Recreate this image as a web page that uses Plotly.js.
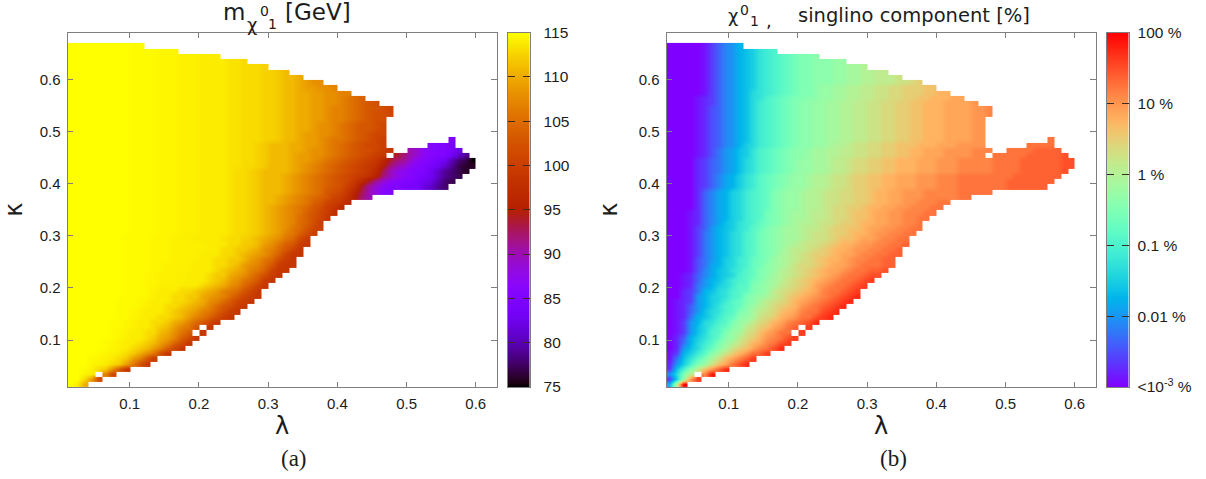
<!DOCTYPE html>
<html><head><meta charset="utf-8">
<script src="https://cdn.plot.ly/plotly-3.0.1.min.js"></script>
<style>html,body{margin:0;padding:0;background:#fff}</style></head>
<body><div id="chart" style="width:1206px;height:479px"></div>
<script>
// Cell centres of the scan grid
const lambdaCells=[.015,.025,.035,.045,.055,.065,.075,.085,.095,.105,.115,.125,.135,.145,.155,.165,.175,.185,.195,.205,.215,.225,.235,.245,.255,.265,.275,.285,.295,.305,.315,.325,.335,.345,.355,.365,.375,.385,.395,.405,.415,.425,.435,.445,.455,.465,.475,.485,.495,.505,.515,.525,.535,.545,.555,.565,.575,.585,.595];
const kappaCells=[.015,.025,.035,.045,.055,.065,.075,.085,.095,.105,.115,.125,.135,.145,.155,.165,.175,.185,.195,.205,.215,.225,.235,.245,.255,.265,.275,.285,.295,.305,.315,.325,.335,.345,.355,.365,.375,.385,.395,.405,.415,.425,.435,.445,.455,.465,.475,.485,.495,.505,.515,.525,.535,.545,.555,.565,.575,.585,.595,.605,.615,.625,.635,.645,.655,.665];
// One string per kappa row, one character per lambda cell, blank = excluded point.
const levelCode="0123456789abcdefghijklmnopqrstuvwxyzABCDE";
// neutralino mass: 75 GeV + level; extra characters mark fractional levels near the top of the range
const massFractional={F:114.75,G:114.5,H:114.25,I:113.5,J:112.5};
const massRows=[
"EDz",
"EECyr",
"EEGD wq",
"EEFHCBxso",
"EEEGHDCByvro",
"EEEFGHDCBywsp",
"EEEEFGHDCBzxvro",
"EEEEEFGHDCBAywtqo",
"EEEEEFGHDDCBAywtro",
"EEEEEEFGHDDCBzywtro",
"EEEEEEFGHDDCCAzxvt o",
"EEEEEEFFGHDDCBAywvs o",
"EEEEEEFFGHDDCCBzywusqo",
"EEEEEEEFFGHDDCCBAywvtrpo",
"EEEEEEEFFGHDDDCBAzywvtrpo",
"EEEEEEEFFFGHDDCCBAzywusrpo",
"EEEEEEEFFFGHDDDCCBAzxwusqpo",
"EEEEEEEEFFFGHDDCCBBzyxwusqpo",
"EEEEEEEEFFFGHDDDCCBAzywvusqo",
"EEEEEEEEFFFGGHHHDDDCBAzxwusqo",
"EEEEEEEEFFFGGHHHHDDDCBAyxvuspo",
"EEEEEEEEFFFGGHHHHDDDCBBzyxvtrpo",
"EEEEEEEEFFFFGGHHHHDDDCBAzywvtqoo",
"EEEEEEEEFFFFGGHHHHDDDCCBAyxwuspoo",
"EEEEEEEEFFFFGGGHHHHDDCCBBAyxvurpo",
"EEEEEEEEFFFFGGGHHHHDDDCCBAzyxvtqoo",
"EEEEEEEEFFFFGGGHHHHHDDCCBBAzxwusqo",
"EEEEEEEEFFFFGGGHHHHHDDDCCBBAyxvtspo",
"EEEEEEEEFFFFGGGHHHDDDDICCJBAzyxvurp",
"EEEEEEEEEFFFFGGGHHHDDDDICCJBAzywvtrp",
"EEEEEEEEEFFFFGGGHHHDDDDICCJBAzyxvusqp",
"EEEEEEEEEFFFFGGGHHHDDDDICCJBAzyxwutrp",
"EEEEEEEEEFFFFGGGHHHDDDDICCJBAzyxwutrqo",
"EEEEEEEEEFFFFGGGHHHDDDDICCJBAzyxwvtsqpn",
"EEEEEEEEEFFFFGGGHHHDDDDICCJBAzyxwvusrpom",
"EEEEEEEEEFFFFGGGHHHDDDDICCJBAAzyxwvtsqpom",
"EEEEEEEEEFFFFGGGHHHDDDDICCJBAAzyxwvutsqpnkhf",
"EEEEEEEEEFFFFGGGHHHDDDDICCJBAAAzyxwvusrqolifdba",
"EEEEEEEEEFFFFGGGHHHDDDDICCJBAAAzyxwvutsrpnjgecaaa997643",
"EEEEEEEEEFFFFGGGHHHDDDDICCJBAAAzyxwvutsrqomjgecbaa987532",
"EEEEEEEEEFFFFGGGHHHDDDDICCJBAAAzyxwvutsrqponlhfdcba986432",
"EEEEEEEEEFFFFGGGHHHDDDDICCJBAAAAzyxwvutsrqpomifdcbaa864321",
"EEEEEEEEEFFFFGGGHHHDDDDIICCJBAAAzyxwvutsrqponkhfecba9864211",
"EEEEEEEEEFFFFGGGHHHDDDDIICCJBAAAzyyxwvutsrqpomjhgecba985320",
"EEEEEEEEEFFFFGGGHHHDDDDIICCJBAAAzyyxxwvutsrqpo jhfecbaa864",
"EEEEEEEEEFFFFGGGHHHDDDDIICCJBAAAzzyxxwvutsrrqpo  fecbaa97",
"EEEEEEEEEFFFFGGGHHHDDDDIICCJBAAAzzyyxwvutsrqqp      baa9",
"EEEEEEEEEFFFFGGGHHHDDDDIICCCJJBAAzyyxwvvutsrqp         a",
"EEEEEEEEEFFFFGGGHHHDDDDIICCCJJBAAzyyxxwvutsrqq",
"EEEEEEEEEFFFFGGGHHHDDDDIICCCJJBAAzzyxxwvutssrq",
"EEEEEEEEEFFFFGGGHHHDDDDIICCCJJBAAzzyxxwvutssrq",
"EEEEEEEEEFFFFGGGHHHDDDDIICCCJJBAAzzyyxwwvutsrr",
"EEEEEEEEEFFFFGGGHHHDDDDIICCCJJBAAzzyyxwwvutsrrq",
"EEEEEEEEEFFFFGGGHHHDDDDIICCCJJBAAzzyyxwwvutssrq",
"EEEEEEEEEFFFFGGGHHHDDDDIICCCJJBAAzzyyxxwvutsr",
"EEEEEEEEEFFFFGGGHHHDDDDIICCCJJBAAzzyyxxwvut",
"EEEEEEEEEFFFFGGGHHHDDDDIICCCJJBAAzzyyxxww",
"EEEEEEEEEFFFFGGGHHHDDDDIICCCJJBAAzyyxxw",
"EEEEEEEEEFFFFGGGHHHDDDDIICCCJJBAAzyxx",
"EEEEEEEEEFFFFGGGHHHDDDDIICCCJJBAAz",
"EEEEEEEEEFFFFGGGHHHDDDDIICCCJJBA",
"EEEEEEEEEFFFFGGGHHHDDDDIICCCJ",
"EEEEEEEEEFFFFGGGHHHDDDDIIC",
"EEEEEEEEEFFFFGGGHHHDDD",
"EEEEEEEEEFFFFGGG",
"EEEEEEEEEFF"];
// singlino component: log10(%) = -3 + level/8
const singlinoRows=[
"aoE",
"3cmwB",
"8dkp xD",
"3bglptwzC",
"28cgkmqtvyAC",
"16behknqtvxzB",
"13acfhlnqsuwyzB",
"028bdgilnqstvxyAC",
"026adfhkmoqsuvxyAB",
"025acegilmprsuwxyAB",
"0138bdghkmnqrtvwyy B",
"0138bdfhilmpqstvwyz B",
"0138adeghkmnprsuvxyzAC",
"0126abdfhilmnqrsuvwyyABC",
"01258bdeghklnpqrtuvxyyABC",
"01258aceghilmoprstuwxyzABC",
"01238acdfhiklnpqrsuvwxyzABC",
"00238acdeghklmnpqstuvwxyzABC",
"00236abdeghiklmpqrstuvxyyzAB",
"001268acdfhhklmnpqrstvwxyyzAB",
"001258abdfghjkmnoqrstuvwxyyzAB",
"0012579bcdghiklnopqrstuvwxyyzAA",
"0001479bcefhiklmopqrstuvvwxyyzzA",
"0001469acdfgijlmnoqrrstuvvwxyyyzz",
"0001468acdfgijkmnopqrstuuvwxxyyzz",
"0001368abdeghjklnopqrsstuvvwxxyyzz",
"0001368abdeghjklmoppqrstuuvwwxxyyz",
"0001368abdeghjklmnopqqrstuuvwwxxyyz",
"0001368abdeghjklmnnopqqrsttuvvwxxyy",
"0001368abdeghjklmnnopqqrsstuuvwwxxyy",
"0001358abcefhiklmnnoppqrssttuvvwwxxyy",
"00012579bcefgijklmnoopqqrsstuuvvwwxxy",
"00012579acdfghjklmnnoppqrrsttuvvwwxxyy",
"00012579acdfghjklmnnoppqrrsttuvvwwxxxyy",
"00002579acdfghiklmmnoopqrrsstuuvvwwxxxyy",
"00002579acdfghiklmmnoopqqrrsstuuvvwwxxxyy",
"00002579acdfghiklmmnoopqqrrsstuuvvwwwxxxxxyy",
"00002579acdfghiklmmnoopqqrrsstuuvvwwwxxxxxyyyyy",
"000023579acefhijklmmnoopqqrssttuuvvvwwwxxxyyyyyyyzzzzzz",
"000023579acefhijklmmnoopqqrssttuuvvvwwwxxxyyyyyyyzzzzzzz",
"000023579acefhijklmmnoopqqrssttuuvvvwwwxxxyyyyyyyyzzzzzzz",
"0000235689bdeghijklmmnnoppqrrssttuuuvvvwwwxxxxxyyyyzzzzzzA",
"0000235689bdeghijklmmnnoppqrrssttuuuvvvwwwxxxxxyyyyzzzzzzAA",
"0000235689bdeghijklmmnnoppqrrssttuuuvvvwwwxxxxxyyyyzzzzzzAA",
"0000124689bceghijkllmnnooppqqrrssttuuvvvwwwwxx yyyyyzzzzzA",
"0000124689bceghijkllmnnooppqqrrssttuuvvvwwwwxxx  yyyyzzzz",
"0000124578acdfghijkllmmnoopqqrrsstttuuuvvvwwww      yyyy",
"0000124578abdfghijkllmmnnooppqqrrssttuuuvvvvww         y",
"0000124578abdfghijkllmmnnooppqqrrssttuuuvvvvww",
"0000124578abdfghijkllmmnnooppqqrrssttuuuvvvvww",
"0000124578abdfghijkllmmnnooppqqrrssttuuuvvvvww",
"0000124578abdfghijkllmmnnooppqqrrssttuuuvvvvww",
"0000124578abdfghijkllmmnnooppqqrrssttuuuvvvvwwx",
"0000124578abdfghijkllmmnnooppqqrrssttuuuvvvvwwx",
"0000123578abdfghijkllmmnnooppqqrrssttuuuvvvvw",
"0000123578abdeghijkkllmmnnooppqqrrssttuuuvv",
"0000013578abdefghijkklmmnnooppqqrrsssttuu",
"0000013578abcefghijkklmmnnooppqqrrssstt",
"0000013578abcefghijkklllmmnnoopppqqrs",
"0000013578abcefghijkklllmmnnoopppq",
"0000013578abcefghijkklllmmnnoopp",
"0000013578abcefghijkklllmmnno",
"0000013578abcefghijkklllmm",
"0000013578abcefghijkkl",
"0000013578abcefg",
"0000013578a"];
const lambdaTicks=[.1,.2,.3,.4,.5,.6];
const kappaTicks=[.1,.2,.3,.4,.5,.6];
const massBarTicks=[75,80,85,90,95,100,105,110,115];
const pctBarTicks=[-3,-2,-1,0,1,2];
const pctBarLabels=["&lt;10<sup>-3</sup> %","0.01 %","0.1 %","1 %","10 %","100 %"];

function decode(rows,fn){
  return rows.map(r=>lambdaCells.map((_,i)=>{
    const c=r[i]; if(c===undefined||c===" ")return null;
    return fn(c);
  }));
}
const massZ=decode(massRows,c=>c in massFractional?massFractional[c]:75+levelCode.indexOf(c));
const singlinoZ=decode(singlinoRows,c=>-3+levelCode.indexOf(c)/8);

// gnuplot palettes (rgbformulae 7,5,15 and 33,13,10)
function scale(f){const s=[];for(let i=0;i<=80;i++){const x=i/80,c=f(x).map(v=>Math.round(255*Math.min(1,Math.max(0,v))));s.push([x,`rgb(${c[0]},${c[1]},${c[2]})`]);}return s;}
const hotScale=scale(x=>[Math.sqrt(x),x*x*x,Math.sin(2*Math.PI*x)]);
const rainbowScale=scale(x=>[Math.abs(2*x-.5),Math.sin(Math.PI*x),Math.cos(Math.PI*x/2)]);
function ramp(lo,hi){const y=[],z=[];for(let i=0;i<=177;i++){const v=lo+(hi-lo)*i/177;y.push(v);z.push([v]);}return {y,z};}

const W=1206,H=479,topPx=32.5,botPx=387;
const yDom=[1-botPx/H,1-topPx/H];
const GR="#7f7f7f",TX="#1c1c1c",SANS="Liberation Sans, Arial, sans-serif",DV="DejaVu Sans, sans-serif";
function mainX(l,r,t){return {domain:[l/W,r/W],range:[.01,.63],tickmode:"array",tickvals:lambdaTicks,tickformat:".1f",ticks:"inside",ticklen:5.5,tickwidth:1,tickcolor:GR,
  showline:true,linecolor:GR,linewidth:1,mirror:"ticks",showgrid:false,zeroline:false,anchor:t,tickfont:{family:SANS,size:15,color:TX},ticklabelstandoff:3,
  title:{text:"λ",font:{family:DV,size:24,color:TX},standoff:4}};}
function mainY(t){return {domain:yDom,range:[.01,.69],tickmode:"array",tickvals:kappaTicks,tickformat:".1f",ticks:"inside",ticklen:5.5,tickwidth:1,tickcolor:GR,
  showline:true,linecolor:GR,linewidth:1,mirror:"ticks",showgrid:false,zeroline:false,anchor:t,tickfont:{family:SANS,size:15,color:TX},ticklabelstandoff:3,
  title:{text:"κ",font:{family:DV,size:24,color:TX},standoff:14}};}
function barX(l,r,t){return {domain:[l/W,r/W],range:[0,1],showticklabels:false,ticks:"",tickmode:"array",tickvals:[],showline:true,linecolor:GR,linewidth:1,mirror:true,showgrid:false,zeroline:false,anchor:t};}
function barY(lo,hi,vals,text,t,off){return {domain:yDom,range:[lo,hi],side:"right",tickmode:"array",tickvals:vals,ticktext:text,ticks:"inside",ticklen:7,tickwidth:1,tickcolor:"#3a2a20",
  showline:true,linecolor:GR,linewidth:1,mirror:"ticks",showgrid:false,zeroline:false,anchor:t,tickfont:{family:SANS,size:15.5,color:TX},ticklabelstandoff:off};}

const rampA=ramp(75,115),rampB=ramp(-3,2);
const traces=[
 {type:"heatmap",x:lambdaCells,y:kappaCells,z:massZ,xaxis:"x",yaxis:"y",colorscale:hotScale,zmin:75,zmax:115,showscale:false,hoverongaps:false,zsmooth:"best"},
 {type:"heatmap",x:lambdaCells,y:kappaCells,z:singlinoZ,xaxis:"x2",yaxis:"y2",colorscale:rainbowScale,zmin:-3,zmax:2,showscale:false,hoverongaps:false,zsmooth:"best"},
 {type:"heatmap",x:[.5],y:rampA.y,z:rampA.z,xaxis:"x3",yaxis:"y3",colorscale:hotScale,zmin:75,zmax:115,showscale:false},
 {type:"heatmap",x:[.5],y:rampB.y,z:rampB.z,xaxis:"x4",yaxis:"y4",colorscale:rainbowScale,zmin:-3,zmax:2,showscale:false}
];
function label(text,x,y,size,family,anchor){return {text,xref:"paper",yref:"paper",x:x/W,y:1-y/H,xanchor:anchor||"left",yanchor:"middle",showarrow:false,font:{family:family||DV,size,color:TX}};}
const layout={width:W,height:H,margin:{l:0,r:0,t:0,b:0},paper_bgcolor:"#fff",plot_bgcolor:"#fff",showlegend:false,
 xaxis:mainX(67.5,496.5,"y"),yaxis:mainY("x"),
 xaxis2:mainX(666.5,1095.5,"y2"),yaxis2:mainY("x2"),
 xaxis3:barX(508,529.5,"y3"),yaxis3:barY(75,115,massBarTicks,massBarTicks.map(String),"x3",10),
 xaxis4:barX(1107,1128.5,"y4"),yaxis4:barY(-3,2,pctBarTicks,pctBarLabels,"x4",5),
 annotations:[
  label("m",221,12,23),label("χ",245,24,18),label("0",258,11,14),label("1",266,24,14),label("[GeV]",283,12,23),
  label("χ",726,16,18),label("0",738,10,14),label("1",748,21,14),label(",",764,20,18),label("singlino component [%]",796,16,19.5),
  label("(a)",294,458,23,"Liberation Serif, serif","center"),label("(b)",893,458,23,"Liberation Serif, serif","center")
 ]};
Plotly.newPlot("chart",traces,layout,{displayModeBar:false,staticPlot:true});
</script></body></html>
